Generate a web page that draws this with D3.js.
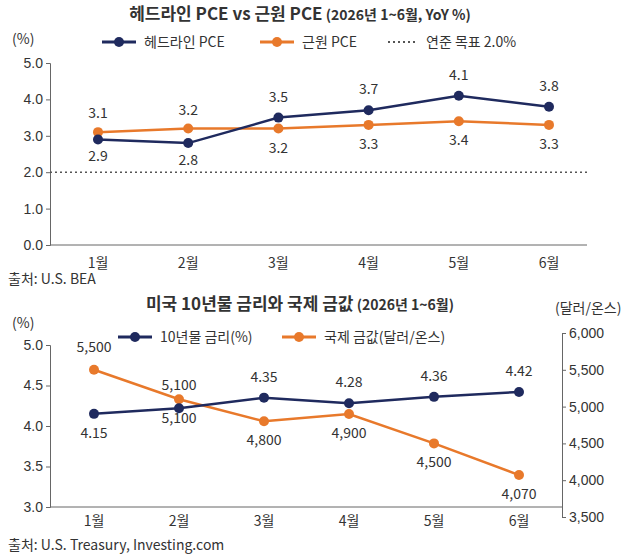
<!DOCTYPE html>
<html>
<head>
<meta charset="utf-8">
<style>
  body { margin: 0; background: #fff; }
  svg { font-family: "Noto Sans CJK KR", "Noto Sans", sans-serif; }
  .tick text { font-size: 14px; fill: #333; }
  .lbl { font-size: 14px; fill: #333; }
</style>
</head>
<body>
<svg width="639" height="559"></svg>
<script src="https://d3js.org/d3.v7.min.js"></script>
<script>
const months = ["1월", "2월", "3월", "4월", "5월", "6월"];
const headline = [2.9, 2.8, 3.5, 3.7, 4.1, 3.8];
const core = [3.1, 3.2, 3.2, 3.3, 3.4, 3.3];
const fedTarget = 2.0;
const pceTicks = [0, 1, 2, 3, 4, 5];

const yield10 = [4.15, 4.22, 4.35, 4.28, 4.36, 4.42];
const yieldLabels = ["4.15", "5,100", "4.35", "4.28", "4.36", "4.42"];
const gold = [5500, 5100, 4800, 4900, 4500, 4070];
const goldLabels = ["5,500", "5,100", "4,800", "4,900", "4,500", "4,070"];
const rateTicks = [3.0, 3.5, 4.0, 4.5, 5.0];
const goldTicks = [3500, 4000, 4500, 5000, 5500, 6000];

const navy = "#1f2a5e", orange = "#e8792b", ink = "#333";
const svg = d3.select("svg");

function title(y, t, sub) {
  const tx = svg.append("text").attr("x", 300).attr("y", y).attr("text-anchor", "middle")
    .attr("fill", ink).attr("font-weight", "bold").attr("font-size", 17).text(t);
  tx.append("tspan").attr("font-size", 14).text(" " + sub);
}
function legendItem(x, y, color, label, dotted) {
  const g = svg.append("g").attr("transform", `translate(${x},${y})`);
  if (dotted) {
    g.append("line").attr("x1", 0).attr("x2", 30).attr("stroke", "#555")
      .attr("stroke-width", 2).attr("stroke-dasharray", "2,3");
  } else {
    g.append("line").attr("x1", 0).attr("x2", 34).attr("stroke", color).attr("stroke-width", 3);
    g.append("circle").attr("cx", 17).attr("r", 5).attr("fill", color);
  }
  g.append("text").attr("class", "lbl").attr("x", dotted ? 38 : 42).attr("y", 5).text(label);
}
function series(x, y, data, color) {
  svg.append("path").datum(data)
    .attr("fill", "none").attr("stroke", color).attr("stroke-width", 2.5)
    .attr("d", d3.line().x((d, i) => x(months[i])).y(d => y(d)));
  svg.append("g").selectAll("circle").data(data).join("circle")
    .attr("cx", (d, i) => x(months[i])).attr("cy", d => y(d)).attr("r", 5).attr("fill", color);
}
function valueLabels(x, y, data, labels, dy) {
  svg.append("g").selectAll("text").data(data).join("text")
    .attr("class", "lbl").attr("text-anchor", "middle")
    .attr("x", (d, i) => x(months[i])).attr("y", (d, i) => y(d) + dy[i]).text((d, i) => labels[i]);
}

// ---- chart 1: PCE
title(20, "헤드라인 PCE vs 근원 PCE", "(2026년 1~6월, YoY %)");
svg.append("text").attr("class", "lbl").attr("x", 12).attr("y", 44).text("(%)");
legendItem(102, 42, navy, "헤드라인 PCE");
legendItem(260, 42, orange, "근원 PCE");
legendItem(388, 42, null, "연준 목표 2.0%", true);

const x1 = d3.scalePoint().domain(months).range([98, 549]);
const y1 = d3.scaleLinear().domain([0, 5]).range([245, 63]);

svg.append("g").attr("transform", "translate(50,0)")
  .call(d3.axisLeft(y1).tickValues(pceTicks).tickFormat(d3.format(".1f")).tickSize(4))
  .call(g => g.selectAll("path,line").attr("stroke", "#666"));
svg.append("line").attr("x1", 50).attr("x2", 587).attr("y1", y1(0)).attr("y2", y1(0)).attr("stroke", "#666");
svg.append("g").attr("transform", "translate(0,262)").selectAll("text").data(months).join("text")
  .attr("class", "lbl").attr("text-anchor", "middle").attr("x", d => x1(d)).attr("y", 6).text(d => d);
svg.append("line").attr("x1", 50).attr("x2", 587).attr("y1", y1(fedTarget)).attr("y2", y1(fedTarget))
  .attr("stroke", "#555").attr("stroke-width", 1.5).attr("stroke-dasharray", "2,3");

series(x1, y1, core, orange);
series(x1, y1, headline, navy);
valueLabels(x1, y1, headline, headline.map(d3.format(".1f")), [22, 22, -16, -16, -16, -16]);
valueLabels(x1, y1, core, core.map(d3.format(".1f")), [-14, -14, 24, 24, 24, 24]);
svg.append("text").attr("class", "lbl").attr("font-size", 12).attr("x", 8).attr("y", 284).text("출처: U.S. BEA");

// ---- chart 2: 10y yield & gold
title(310, "미국 10년물  금리와 국제 금값", "(2026년 1~6월)");
svg.append("text").attr("class", "lbl").attr("font-size", 12).attr("x", 555).attr("y", 313).text("(달러/온스)");
svg.append("text").attr("class", "lbl").attr("x", 12).attr("y", 328).text("(%)");
legendItem(118, 337, navy, "10년물 금리(%)");
legendItem(282, 337, orange, "국제 금값(달러/온스)");

const x2 = d3.scalePoint().domain(months).range([94, 519]);
const y2 = d3.scaleLinear().domain([3, 5]).range([507, 345]);
const y2r = d3.scaleLinear().domain([3500, 6000]).range([517, 333]);

svg.append("g").attr("transform", "translate(50,0)")
  .call(d3.axisLeft(y2).tickValues(rateTicks).tickFormat(d3.format(".1f")).tickSize(4))
  .call(g => g.selectAll("path,line").attr("stroke", "#666"));
svg.append("g").attr("transform", "translate(562,0)")
  .call(d3.axisRight(y2r).tickValues(goldTicks).tickFormat(d3.format(",")).tickSize(4))
  .call(g => g.selectAll("path,line").attr("stroke", "#666"));
svg.append("line").attr("x1", 50).attr("x2", 562).attr("y1", y2(3)).attr("y2", y2(3)).attr("stroke", "#666");
svg.append("g").attr("transform", "translate(0,520)").selectAll("text").data(months).join("text")
  .attr("class", "lbl").attr("text-anchor", "middle").attr("x", d => x2(d)).attr("y", 6).text(d => d);

series(x2, y2r, gold, orange);
series(x2, y2, yield10, navy);
valueLabels(x2, y2, yield10, yieldLabels, [24, -18, -16, -16, -16, -16]);
valueLabels(x2, y2r, gold, goldLabels, [-18, 24, 24, 24, 24, 24]);
svg.append("text").attr("class", "lbl").attr("font-size", 12).attr("x", 8).attr("y", 550).text("출처: U.S. Treasury, Investing.com");
</script>
</body>
</html>
